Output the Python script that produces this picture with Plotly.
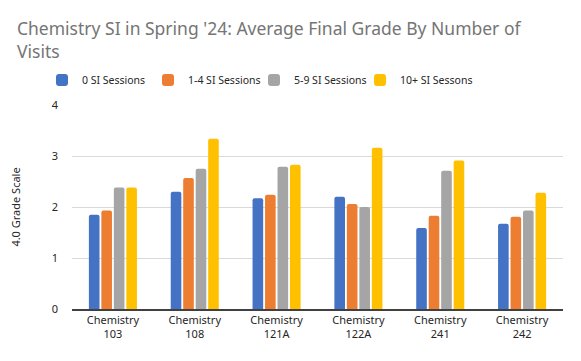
import plotly.graph_objects as go

# 課程與各組平均成績 (4.0 scale)
courses = ["Chemistry<br>103", "Chemistry<br>108", "Chemistry<br>121A",
           "Chemistry<br>122A", "Chemistry<br>241", "Chemistry<br>242"]
sessions_0 = [1.85, 2.30, 2.17, 2.20, 1.59, 1.67]
sessions_1_4 = [1.93, 2.57, 2.24, 2.06, 1.83, 1.81]
sessions_5_9 = [2.38, 2.75, 2.79, 2.00, 2.71, 1.93]
sessions_10 = [2.38, 3.34, 2.83, 3.16, 2.91, 2.28]

series = [
    ("0 SI Sessions", sessions_0, "#4472C4"),
    ("1-4 SI Sessions", sessions_1_4, "#ED7D31"),
    ("5-9 SI Sessions", sessions_5_9, "#A5A5A5"),
    ("10+ SI Sessons", sessions_10, "#FFC000"),
]

FONT = "Noto Sans"
# 頁面 body 預設有 8px 邊距，圖表尺寸扣掉
W, H = 573, 353

fig = go.Figure()
for name, vals, color in series:
    fig.add_trace(go.Bar(x=courses, y=vals, name=name, marker_color=color,
                         marker_line_width=0))
# 空白圖例項，撐開圖例寬度避免最後一項被裁
fig.add_trace(go.Scatter(x=courses[:1], y=[None], name=" ", mode="markers",
                         marker=dict(color="rgba(0,0,0,0)", size=1,
                                     line=dict(width=0)),
                         hoverinfo="skip"))

fig.update_layout(
    width=W, height=H,
    margin=dict(l=64, r=18, t=97, b=52, autoexpand=False),
    paper_bgcolor="white", plot_bgcolor="white",
    font=dict(family=FONT, size=11, color="#262626"),
    title=dict(
        text="Chemistry SI in Spring '24: Average Final Grade By Number of<br>Visits",
        x=9 / W, xanchor="left", xref="container",
        y=1 - 27 / H, yanchor="middle", yref="container",
        font=dict(family=FONT, size=17.5, color="#757575"),
    ),
    barmode="group", bargap=0.39, bargroupgap=0.15, barcornerradius=2,
    legend=dict(orientation="h", x=(42 - 72) / 491, xanchor="left",
                y=1 + 25 / 204, yanchor="middle",
                font=dict(size=10.5, color="#262626"), itemwidth=30,
                entrywidth=61, entrywidthmode="pixels",
                traceorder="normal"),
    showlegend=True,
)
fig.update_yaxes(range=[0, 4], dtick=1, showgrid=True, gridcolor="#D9D9D9",
                 zeroline=False, showline=False, ticks="", ticklabelstandoff=13,
                 title=dict(text="4.0 Grade Scale", font=dict(size=11, color="#262626"),
                            standoff=28))
fig.update_xaxes(showline=True, linecolor="#404040", linewidth=1.5, ticks="",
                 tickfont=dict(size=11, color="#262626"))

fig.write_html("out.html")
